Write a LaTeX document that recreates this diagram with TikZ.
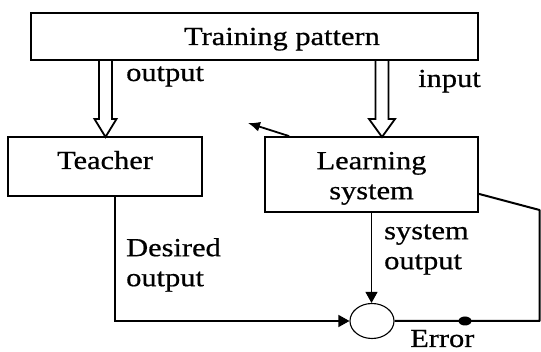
\documentclass[tikz,border=0pt]{standalone}
\usepackage{fontspec}
\setmainfont{Liberation Serif}[FakeStretch=1.17,FakeBold=0.6]
\usetikzlibrary{arrows.meta,calc,shapes.geometric}
\begin{document}
\begin{tikzpicture}[x=1pt,y=-1pt,
  box/.style={draw,line width=1.8pt,inner sep=0pt,font=\fontsize{26}{30}\selectfont},
  lbl/.style={font=\fontsize{26}{30}\selectfont,inner sep=0pt,align=left},
  thinline/.style={line width=1.1pt},
  midline/.style={line width=1.4pt},
  hollow/.style={line width=1.8pt,line join=miter},
  tip/.style={-{Triangle[length=11pt,width=12pt]}}]
\useasboundingbox (0,0) rectangle (541,352);
\fill[white] (0,0) rectangle (541,352);
% boxes
\node[box,minimum width=447pt,minimum height=47pt,text height=22pt,text depth=5pt] (tp) at (254.5,36.5) {\hspace*{55pt}Training pattern};
\node[box,minimum width=194pt,minimum height=59pt,text height=18pt,text depth=13pt] (T) at (105,166.5) {Teacher};
\node[box,minimum width=213pt,minimum height=75pt,align=center] (L) at (371.5,174.5) {\rule{0pt}{25pt}Learning\\system};
% comparator
\node[draw,thinline,ellipse,minimum width=44pt,minimum height=35pt,inner sep=0pt] (C) at (372,321) {};
% labels
\node[lbl,anchor=base west] (lout) at (126,81) {output};
\node[lbl,anchor=base west] (lin) at (418,87) {input};
\node[lbl,anchor=north west] (ldes) at (126,236) {\rule{0pt}{20pt}Desired\\output};
\node[lbl,anchor=north west] (lsys) at (384,219) {\rule{0pt}{20pt}system\\output};
\node[lbl,anchor=base west] (lerr) at (410,347) {Error};
% hollow arrows
\coordinate (ta) at (105.5,137);
\coordinate (tb) at (382,137);
\path (ta |- tp.south) coordinate (sa);
\path (tb |- tp.south) coordinate (sb);
\draw[hollow] ($(sa)+(-6.5,0)$) -- ($(ta)+(-6.5,-18)$) -- ($(ta)+(-11,-18)$) -- (ta) -- ($(ta)+(11,-18)$) -- ($(ta)+(6.5,-18)$) -- ($(sa)+(6.5,0)$);
\draw[hollow] ($(sb)+(-6.5,0)$) -- ($(tb)+(-6.5,-18)$) -- ($(tb)+(-13,-18)$) -- (tb) -- ($(tb)+(13,-18)$) -- ($(tb)+(6.5,-18)$) -- ($(sb)+(6.5,0)$);
% small feedback arrow
\coordinate (fb) at (248,123);
\draw[line width=1.8pt,-{Latex[length=12pt,width=10pt]}] ($(L.north west)+(25,0)$) -- (fb);
% desired output
\draw[midline,tip] ($(T.south)+(10,0)$) |- (C.west);
% system output
\draw[thinline,tip] (L.south) -- (L.south |- C.north);
% error loop
\coordinate (er) at (539.5,321);
\coordinate (eu) at (539.5,210);
\draw[line width=2pt,line join=round] (C.east) -- (er) -- (eu) -- ($(L.south east)+(0,-19)$);
\node[fill,ellipse,minimum width=13pt,minimum height=9pt,inner sep=0pt] (dot) at (465,321) {};
\end{tikzpicture}
\end{document}
